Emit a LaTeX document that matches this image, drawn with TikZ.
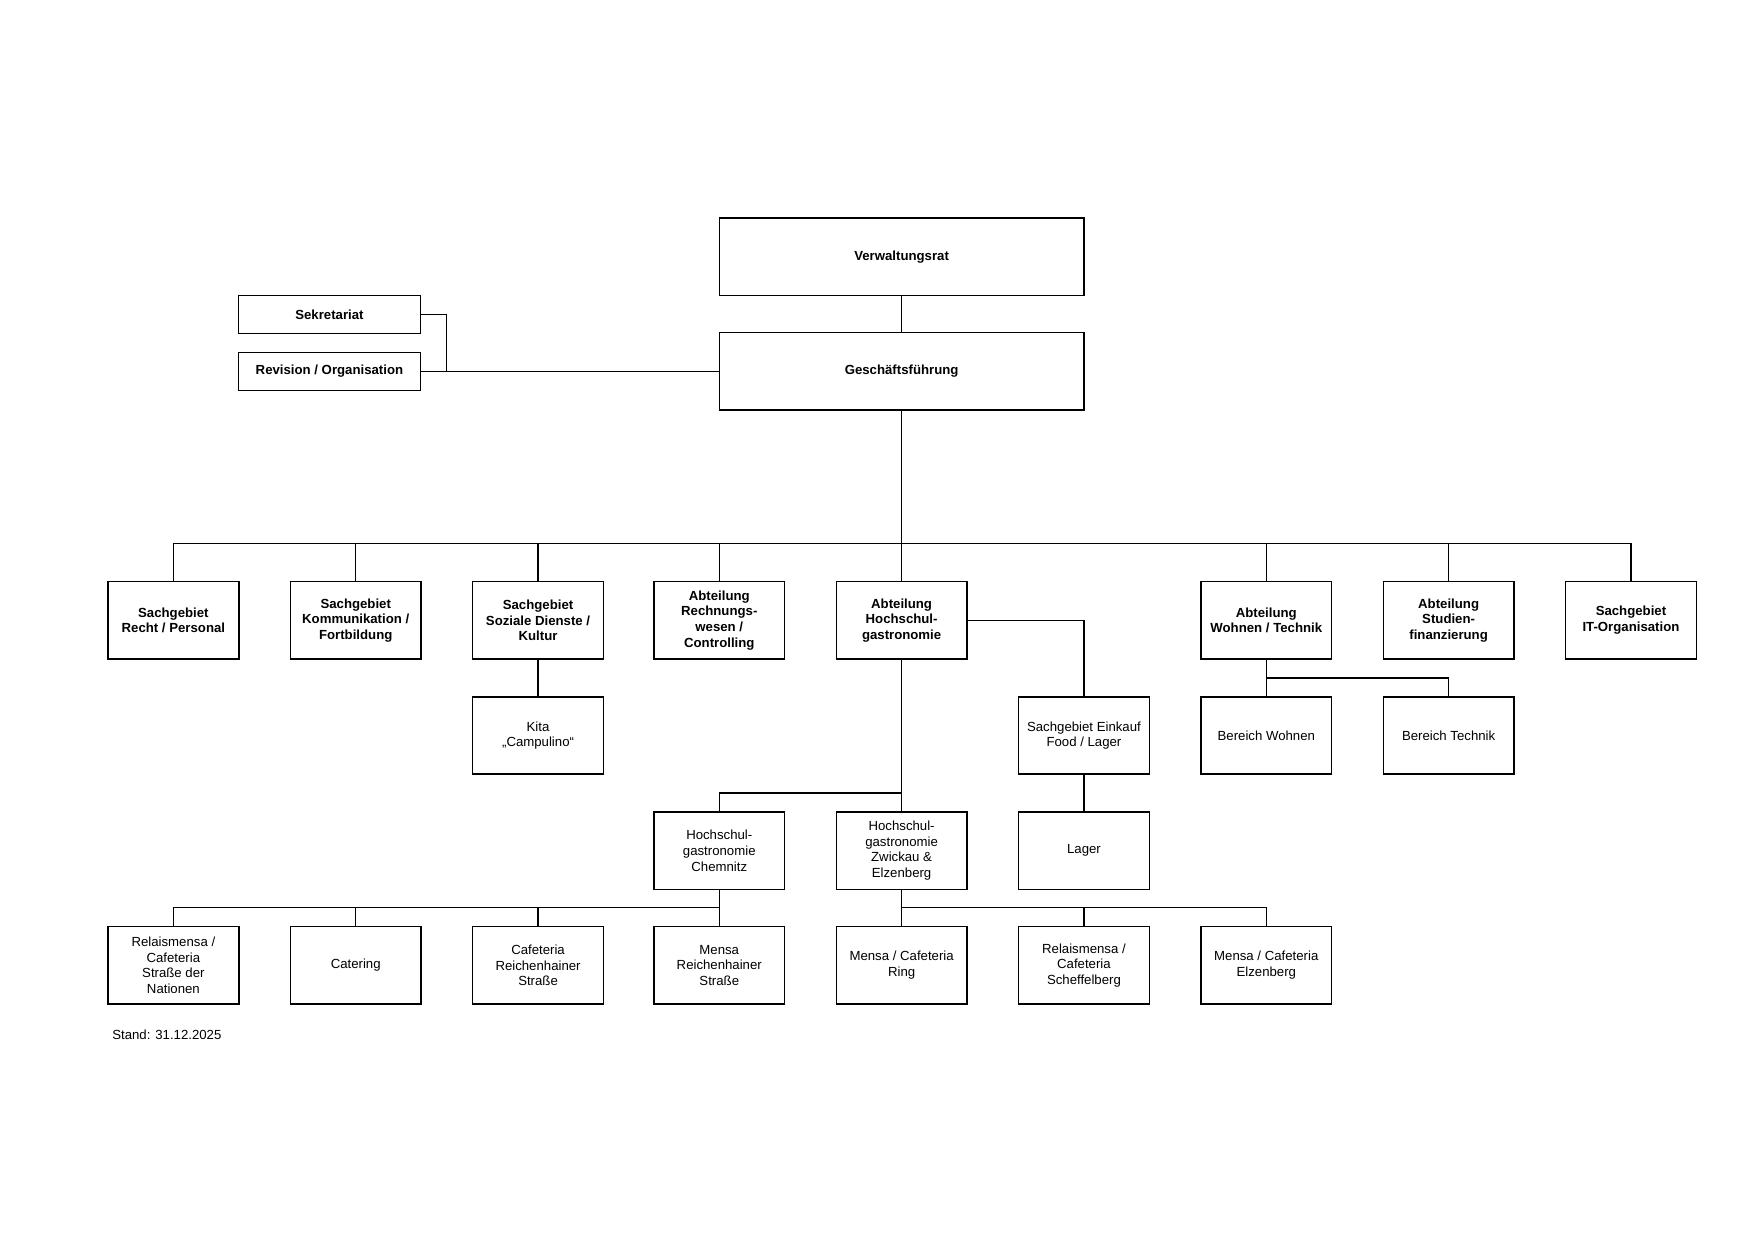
\documentclass[tikz,border=0pt]{standalone}
\usepackage{fontspec}
\setmainfont{Liberation Sans}
\begin{document}
\begin{tikzpicture}[x=0.5pt,y=-0.5pt,
  every node/.style={font=\fontsize{5.9}{7}\selectfont},
  box/.style={draw,line width=0.6pt,minimum width=58.5pt,minimum height=34.5pt,align=center,inner sep=1pt},
  bbox/.style={box,font=\fontsize{5.9}{7}\selectfont\bfseries},
  big/.style={bbox,minimum width=163pt},
  small/.style={bbox,minimum width=81.5pt,minimum height=17pt},
  ln/.style={line width=0.6pt}]
\useasboundingbox (0,0) rectangle (1568,1108);
\node[big] (vr) at (806,229.5) {Verwaltungsrat};
\node[big] (gf) at (806,332) {Geschäftsführung};
\node[small] (sek) at (294.5,281) {Sekretariat};
\node[small] (rev) at (294.5,332) {Revision / Organisation};
\draw[ln] (vr) -- (gf);
\draw[ln] (rev) -- (gf);
\draw[ln] (sek.east) -| (399,332);
\node[bbox] (a1) at (155,554.5) {Sachgebiet\\Recht / Personal};
\node[bbox] (a2) at (318,554.5) {Sachgebiet\\Kommunikation /\\Fortbildung};
\node[bbox] (a3) at (481,554.5) {Sachgebiet\\Soziale Dienste /\\Kultur};
\node[bbox] (a4) at (643,554.5) {Abteilung\\Rechnungs-\\wesen /\\Controlling};
\node[bbox] (a5) at (806,554.5) {Abteilung\\Hochschul-\\gastronomie};
\node[bbox] (a6) at (1132,554.5) {Abteilung\\Wohnen / Technik};
\node[bbox] (a7) at (1295,554.5) {Abteilung\\Studien-\\finanzierung};
\node[bbox] (a8) at (1458,554.5) {Sachgebiet\\IT-Organisation};
\coordinate (bus) at (806,486);
\draw[ln] (gf) -- (a5);
\draw[ln] (a1.north) |- (a8.north |- bus) -- (a8.north);
\foreach \n in {a2,a3,a4,a6,a7} \draw[ln] (\n.north) -- (\n.north |- bus);
\node[box] (kita) at (481,657.5) {Kita\\„Campulino“};
\draw[ln] (a3) -- (kita);
\node[box] (ein) at (969,657.5) {Sachgebiet Einkauf\\Food / Lager};
\node[box] (lag) at (969,760.5) {Lager};
\draw[ln] (a5.east) -| (ein.north);
\draw[ln] (ein) -- (lag);
\node[box] (bw) at (1132,657.5) {Bereich Wohnen};
\node[box] (bt) at (1295,657.5) {Bereich Technik};
\draw[ln] (a6) -- (bw);
\draw[ln] (a6.south |- 0,606) -| (bt.north);
\node[box] (ch) at (643,760.5) {Hochschul-\\gastronomie\\Chemnitz};
\node[box] (zw) at (806,760.5) {Hochschul-\\gastronomie\\Zwickau \&\\Elzenberg};
\draw[ln] (a5) -- (zw);
\draw[ln] (806,709) -| (ch.north);
\node[box] (b1) at (155,863) {Relaismensa /\\Cafeteria\\Straße der\\Nationen};
\node[box] (b2) at (318,863) {Catering};
\node[box] (b3) at (481,863) {Cafeteria\\Reichenhainer\\Straße};
\node[box] (b4) at (643,863) {Mensa\\Reichenhainer\\Straße};
\node[box] (b5) at (806,863) {Mensa / Cafeteria\\Ring};
\node[box] (b6) at (969,863) {Relaismensa /\\Cafeteria\\Scheffelberg};
\node[box] (b7) at (1132,863) {Mensa / Cafeteria\\Elzenberg};
\draw[ln] (ch) -- (b4);
\draw[ln] (b1.north) |- (643,811);
\foreach \n in {b2,b3} \draw[ln] (\n.north) -- (\n.north |- 0,811);
\draw[ln] (zw) -- (b5);
\draw[ln] (806,811) -| (b7.north);
\draw[ln] (b6.north) -- (969,811);
\node[anchor=west,inner sep=0] (stand) at (100,925) {Stand: 31.12.2025};
\end{tikzpicture}
\end{document}
